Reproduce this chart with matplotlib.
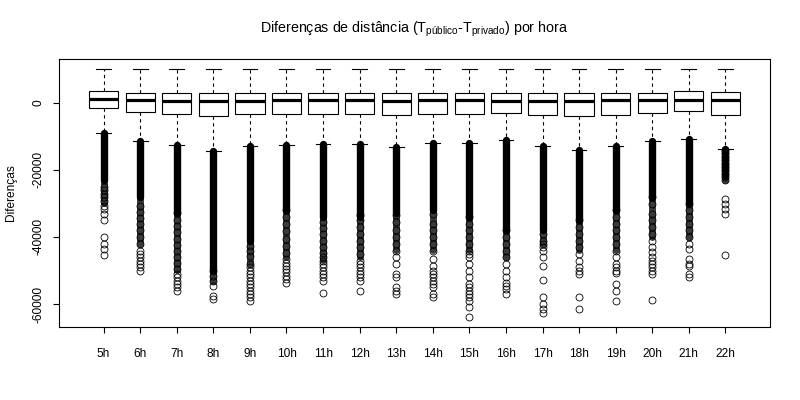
import matplotlib
matplotlib.use("Agg")
import matplotlib.pyplot as plt

plt.rcParams['font.family'] = ['Liberation Sans', 'DejaVu Sans']
plt.rcParams['mathtext.fontset'] = 'custom'
plt.rcParams['mathtext.rm'] = 'Liberation Sans'
plt.rcParams['mathtext.it'] = 'Liberation Sans'

# ---------------- data ----------------
hours = ["5h", "6h", "7h", "8h", "9h", "10h", "11h", "12h", "13h", "14h",
         "15h", "16h", "17h", "18h", "19h", "20h", "21h", "22h"]
med = [1085, 690, 590, 590, 590, 690, 690, 690, 490, 690,
       690, 590, 490, 590, 690, 690, 890, 690]
q1 = [-1500, -2895, -3290, -3990, -3490, -3290, -3290, -3290, -3690, -3290,
      -3290, -3090, -3590, -3990, -3590, -2995, -2500, -3590]
q3 = [3470, 2975, 2875, 2975, 2875, 2975, 2975, 2975, 2975, 2975,
      2975, 2775, 2975, 2875, 2975, 2975, 3375, 3175]
whis_hi = [10000] * 18
whis_lo = [-8960, -11550, -12550, -14340, -12950, -12750, -12450, -12250, -13340, -11950,
           -12050, -11250, -12950, -14030, -12850, -11550, -10750, -13940]
# lower end of the solid (fully overplotted) run of outliers below each whisker
dense_end = [-23200, -28200, -33000, -50000, -41100, -32000, -34100, -34000, -33000, -32000,
             -34000, -38000, -38000, -35000, -32000, -28000, -30000, -22000]
# lower end of the nearly solid run that follows it
semi_end = [-30000, -42000, -50000, -53000, -48000, -46000, -47000, -46000, -44000, -44000,
            -44000, -46000, -42000, -44000, -44000, -40000, -40000, -23000]

out_5h = [-25200, -26200, -27200, -28200, -29200, -30700, -31600, -33100, -34900,
          -39900, -42100, -43600, -45300]
out_6h = [-30700, -32700, -34500, -36300, -38100, -40100, -42100, -44100, -45100,
          -46100, -47100, -48100, -49100, -50100]
out_7h = [-33000, -35100, -36900, -38700, -40500, -42300, -44100, -45900, -47700,
          -49500, -51000, -52100, -53000, -54000, -55000, -56000]
out_8h = [-50100, -51600, -53000, -54500, -57500, -58500]
out_9h = [-42600, -44100, -45600, -48100, -49100, -50100, -51000, -52100, -53000,
          -54000, -55000, -56000, -57000, -58000, -59000]
out_10h = [-32100, -34200, -36300, -38400, -40500, -42600, -44700, -46500, -47700,
           -48600, -49600, -50600, -51600, -52500, -53600]
out_11h = [-35700, -37500, -39300, -41100, -42900, -44700, -46100, -47100, -48100,
           -49100, -50100, -51000, -52100, -53000, -56800]
out_12h = [-33600, -35100, -37100, -39100, -41100, -43100, -45100, -47100, -48100,
           -49100, -50100, -51000, -52100, -53000, -56000]
out_13h = [-33600, -35700, -38100, -40100, -42100, -44100, -46100, -48100, -51000,
           -52100, -55000, -56000, -57000]
out_14h = [-33100, -36100, -38100, -40100, -42100, -44100, -46600, -48600, -50100,
           -51000, -52100, -53000, -54000, -55000, -57000, -58000]
out_15h = [-34100, -36100, -38100, -40100, -42100, -44100, -45100, -46100, -48100,
           -50100, -52100, -54000, -55000, -56000, -57000, -58000, -59000, -61000, -63800]
out_16h = [-38100, -40100, -42100, -44100, -46100, -48100, -50100, -52100, -53600,
           -54500, -55500, -57000]
out_17h = [-39100, -41100, -42100, -43100, -44100, -46100, -48600, -52800,
           -58000, -60000, -61500, -62800]
out_18h = [-35100, -37100, -39100, -41100, -43100, -45100, -47100, -49100, -50100,
           -51000, -58000, -61500]
out_19h = [-32100, -34100, -36100, -38100, -40100, -42100, -44100, -46100, -48100,
           -49100, -50100, -50900, -54000, -56000, -59000]
out_20h = [-28200, -30100, -33100, -35100, -37100, -39100, -41100, -43100, -44600,
           -46100, -47100, -48100, -49100, -50100, -51000, -58800]
out_21h = [-30100, -32100, -34100, -36100, -38100, -40100, -42100, -43600, -46600,
           -48100, -48600, -51000, -52100]
out_22h = [-14200, -15100, -16200, -17200, -18200, -19200, -20200, -21200, -22200,
           -23200, -28700, -30100, -31600, -33100, -45300]

outliers = [out_5h, out_6h, out_7h, out_8h, out_9h, out_10h, out_11h, out_12h, out_13h,
            out_14h, out_15h, out_16h, out_17h, out_18h, out_19h, out_20h, out_21h, out_22h]

yticks = [-60000, -40000, -20000, 0]
title = r"Diferenças de distância (T$_{\mathrm{público}}$-T$_{\mathrm{privado}}$) por hora"
ylabel = "Diferenças"

# ---------------- figure ----------------
W, H = 800, 400
fig = plt.figure(figsize=(8, 4), dpi=100)
left, right, top, bottom = 59, 770, 59, 326.7
ax = fig.add_axes([left / W, 1 - bottom / H, (right - left) / W, (bottom - top) / H])

n = len(hours)
positions = list(range(1, n + 1))

stats = []
for i in range(n):
    stats.append(dict(med=med[i], q1=q1[i], q3=q3[i], whislo=whis_lo[i],
                      whishi=whis_hi[i], fliers=outliers[i]))

# overplotted runs of outliers
ax.vlines(positions, semi_end, dense_end, colors='#3a3a3a', linewidth=5.0,
          capstyle='round', zorder=1.4)
ax.vlines(positions, dense_end, whis_lo, colors='black', linewidth=5.3,
          capstyle='round', zorder=1.5)

ax.bxp(stats, positions=positions, widths=0.8, capwidths=0.4, patch_artist=True,
       boxprops=dict(facecolor='white', edgecolor='black', linewidth=0.8),
       medianprops=dict(color='black', linewidth=2.3, solid_capstyle='butt'),
       whiskerprops=dict(color='black', linewidth=0.8, linestyle=(0, (3, 3))),
       capprops=dict(color='black', linewidth=0.8),
       flierprops=dict(marker='o', markerfacecolor='none', markeredgecolor='black',
                       markersize=5, markeredgewidth=0.6))

allvals = whis_hi + [v for o in outliers for v in o]
lo, hi = min(allvals), max(allvals)
r = hi - lo
ax.set_ylim(lo - 0.04 * r, hi + 0.04 * r)
ax.set_xlim(0.5 - 0.04 * n, n + 0.5 + 0.04 * n)

ax.set_xticks(positions)
ax.set_xticklabels(hours, fontsize=8.6)
ax.set_yticks(yticks)
ax.set_yticklabels([str(v) for v in yticks], rotation=90, va='center', fontsize=8.6)
ax.tick_params(axis='both', direction='out', length=4.5, width=0.8, color='black')
ax.tick_params(axis='x', pad=11)
ax.tick_params(axis='y', pad=6)
for s in ax.spines.values():
    s.set_linewidth(0.8)
    s.set_color('black')

fig.text((left + right) / 2 / W, 1 - 29 / H, title, ha='center', va='center', fontsize=10.3)
fig.text(11 / W, 1 - ((top + bottom) / 2) / H, ylabel, rotation=90, ha='center',
         va='center', fontsize=8.6)

fig.savefig("out.png", dpi=100)
